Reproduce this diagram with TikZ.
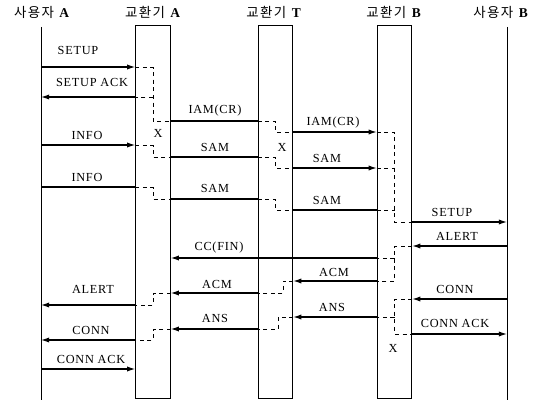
\documentclass[tikz,border=0pt]{standalone}
\usepackage{fontspec}
\setmainfont[LetterSpace=6]{Liberation Serif}
\newfontfamily\kr[LetterSpace=10]{Noto Sans CJK KR}
\usetikzlibrary{arrows.meta}

\begin{document}
\begin{tikzpicture}[x=0.03cm,y=-0.03cm,
  exch/.style={draw,line width=0.75pt,minimum width=1.04cm,minimum height=11.19cm,inner sep=0pt},
  hdr/.style={font=\fontsize{11.5}{13}\selectfont,inner sep=0pt},
  lbl/.style={font=\fontsize{10.5}{12}\selectfont,inner sep=0pt},
  msg/.style={line width=1pt,-{Latex[length=7pt,width=4.5pt]}},
  solidmsg/.style={line width=1pt},
  relay/.style={line width=0.75pt,dash pattern=on 3.5pt off 3pt},
  life/.style={line width=0.75pt}]
  \useasboundingbox (0,0) rectangle (546,400);
  % headers
  \node[hdr] (hUA) at (42,12) {{\kr 사용자} \textbf{A}};
  \node[hdr] (hSA) at (153,12) {{\kr 교환기} \textbf{A}};
  \node[hdr] (hST) at (274,12) {{\kr 교환기} \textbf{T}};
  \node[hdr] (hSB) at (394,12) {{\kr 교환기} \textbf{B}};
  \node[hdr] (hUB) at (501,12) {{\kr 사용자} \textbf{B}};
  % lifelines and exchanges
  \coordinate (uA) at (41,27);
  \coordinate (uB) at (507,27);
  \draw[life] (uA) -- (uA |- 0,400);
  \draw[life] (uB) -- (uB |- 0,400);
  \node[exch] (swA) at (153,211.5) {};
  \node[exch] (swT) at (275.5,211.5) {};
  \node[exch] (swB) at (394.5,211.5) {};
  \coordinate (tAcm) at (283,0);
  \coordinate (tAns) at (278,0);

  % setup, IAM
  \draw[msg] (uA |- 0,67) -- (swA.west |- 0,67);
  \draw[relay] (swA.west |- 0,67) -| (swA |- 0,121) -- (swA.east |- 0,121);
  \draw[relay] (swA |- 0,97) -- (swA.west |- 0,97);
  \draw[msg] (swA.west |- 0,97) -- (uA |- 0,97);
  \draw[solidmsg] (swA.east |- 0,121) -- (swT.west |- 0,121);
  \draw[relay] (swT.west |- 0,121) -| (swT |- 0,132) -- (swT.east |- 0,132);
  \draw[msg] (swT.east |- 0,132) -- (swB.west |- 0,132);
  \draw[relay] (swB.west |- 0,132) -| (swB |- 0,222) -- (swB.east |- 0,222);
  \node[lbl] (lSetupA) at (78,50) {SETUP};
  \node[lbl] (lSetupAck) at (92,82) {SETUP ACK};
  \node[lbl] (lIamA) at (215,111) {IAM(CR)};
  \node[lbl] (lIamT) at (333,123) {IAM(CR)};
  \node[lbl] (xA) at (158,133) {X};
  \node[lbl] (xT) at (282,147) {X};

  % digits
  \draw[msg] (uA |- 0,145) -- (swA.west |- 0,145);
  \draw[relay] (swA.west |- 0,145) -| (swA |- 0,157) -- (swA.east |- 0,157);
  \draw[solidmsg] (swA.east |- 0,157) -- (swT.west |- 0,157);
  \draw[relay] (swT.west |- 0,157) -| (swT |- 0,168) -- (swT.east |- 0,168);
  \draw[msg] (swT.east |- 0,168) -- (swB.west |- 0,168);
  \draw[relay] (swB.west |- 0,168) -- (swB |- 0,168);
  \draw[solidmsg] (uA |- 0,187) -- (swA.west |- 0,187);
  \draw[relay] (swA.west |- 0,187) -| (swA |- 0,199) -- (swA.east |- 0,199);
  \draw[solidmsg] (swA.east |- 0,199) -- (swT.west |- 0,199);
  \draw[relay] (swT.west |- 0,199) -| (swT |- 0,210) -- (swT.east |- 0,210);
  \draw[solidmsg] (swT.east |- 0,210) -- (swB.west |- 0,210);
  \draw[relay] (swB.west |- 0,210) -- (swB |- 0,210);
  \node[lbl] (lInfo1) at (87,135) {INFO};
  \node[lbl] (lSam1) at (215,147) {SAM};
  \node[lbl] (lSam2) at (327,158) {SAM};
  \node[lbl] (lInfo2) at (87,177) {INFO};
  \node[lbl] (lSam3) at (215,188) {SAM};
  \node[lbl] (lSam4) at (327,200) {SAM};

  % setup B, alert
  \draw[msg] (swB.east |- 0,222) -- (uB |- 0,222);
  \draw[msg] (uB |- 0,246) -- (swB.east |- 0,246);
  \draw[relay] (swB.east |- 0,246) -| (swB |- 0,281) -- (swB.west |- 0,281);
  \draw[relay] (swB |- 0,258) -- (swB.west |- 0,258);
  \draw[msg] (swB.west |- 0,258) -- (swA.east |- 0,258);
  \draw[msg] (swB.west |- 0,281) -- (swT.east |- 0,281);
  \draw[relay] (swT.east |- 0,281) -| (tAcm |- 0,293) -- (swT.west |- 0,293);
  \draw[msg] (swT.west |- 0,293) -- (swA.east |- 0,293);
  \draw[relay] (swA.east |- 0,293) -| (swA |- 0,305) -- (swA.west |- 0,305);
  \draw[msg] (swA.west |- 0,305) -- (uA |- 0,305);
  \node[lbl] (lSetupB) at (452,212) {SETUP};
  \node[lbl] (lAlertB) at (457,236) {ALERT};
  \node[lbl] (lCc) at (219,248) {CC(FIN)};
  \node[lbl] (lAcmT) at (334,272) {ACM};
  \node[lbl] (lAcmA) at (217,284) {ACM};
  \node[lbl] (lAlertA) at (93,289) {ALERT};

  % answer
  \draw[msg] (uB |- 0,299) -- (swB.east |- 0,299);
  \draw[relay] (swB.east |- 0,299) -| (swB |- 0,334) -- (swB.east |- 0,334);
  \draw[relay] (swB |- 0,317) -- (swB.west |- 0,317);
  \draw[msg] (swB.east |- 0,334) -- (uB |- 0,334);
  \draw[msg] (swB.west |- 0,317) -- (swT.east |- 0,317);
  \draw[relay] (swT.east |- 0,317) -| (tAns |- 0,329) -- (swT.west |- 0,329);
  \draw[msg] (swT.west |- 0,329) -- (swA.east |- 0,329);
  \draw[relay] (swA.east |- 0,329) -| (swA |- 0,340) -- (swA.west |- 0,340);
  \draw[msg] (swA.west |- 0,340) -- (uA |- 0,340);
  \draw[msg] (uA |- 0,369) -- (swA.west |- 0,369);
  \node[lbl] (lConnB) at (455,289) {CONN};
  \node[lbl] (lAnsT) at (332,307) {ANS};
  \node[lbl] (lConnAckB) at (455,323) {CONN ACK};
  \node[lbl] (lAnsA) at (215,318) {ANS};
  \node[lbl] (lConnA) at (91,330) {CONN};
  \node[lbl] (lConnAckA) at (91,359) {CONN ACK};
  \node[lbl] (xB) at (393,348) {X};
\end{tikzpicture}
\end{document}
